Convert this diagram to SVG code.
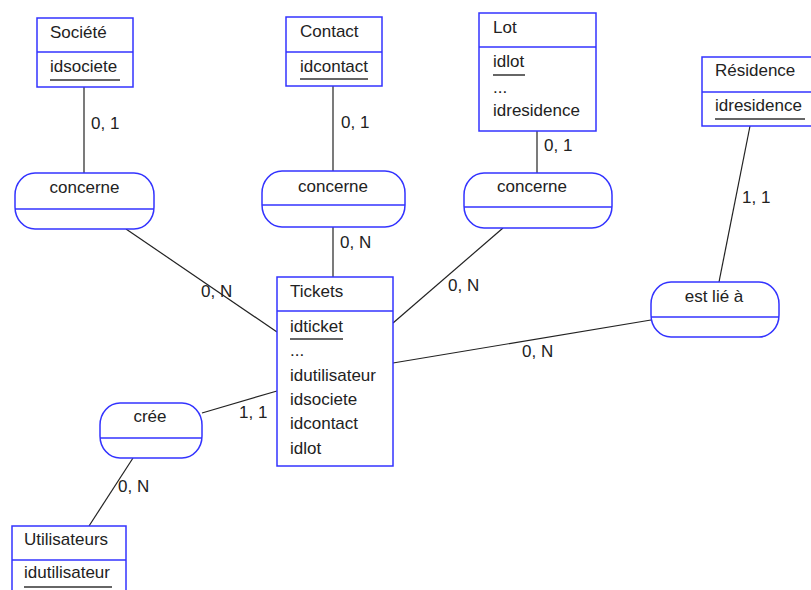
<svg xmlns="http://www.w3.org/2000/svg" width="811" height="590" viewBox="0 0 811 590">
<style>
.box{fill:#fff;stroke:#3333ff;stroke-width:1.5}
.div{stroke:#3333ff;stroke-width:1.5}
.t{font-family:"Liberation Sans",Arial,sans-serif;font-size:17px;fill:#222}
.ul{stroke:#333;stroke-width:1.5}
.c{stroke:#222;stroke-width:1.2;fill:none}
</style>
<rect width="811" height="590" fill="#fff"/>
<g id="connectors">
<line class="c" x1="84" y1="87" x2="84" y2="173"/>
<line class="c" x1="333" y1="86" x2="333" y2="171"/>
<line class="c" x1="537" y1="131" x2="537" y2="173"/>
<line class="c" x1="750" y1="126" x2="719" y2="282"/>
<line class="c" x1="126" y1="229" x2="277" y2="332"/>
<line class="c" x1="333" y1="227" x2="333" y2="277"/>
<line class="c" x1="503" y1="228" x2="393" y2="323"/>
<line class="c" x1="651" y1="320" x2="393" y2="363"/>
<line class="c" x1="202" y1="413" x2="277" y2="391"/>
<line class="c" x1="133" y1="458" x2="89" y2="526"/>
<text class="t" x="91" y="129">0, 1</text>
<text class="t" x="341" y="128">0, 1</text>
<text class="t" x="544" y="151">0, 1</text>
<text class="t" x="742" y="203">1, 1</text>
<text class="t" x="201" y="297">0, N</text>
<text class="t" x="340" y="248">0, N</text>
<text class="t" x="448" y="291">0, N</text>
<text class="t" x="522" y="357">0, N</text>
<text class="t" x="239" y="418">1, 1</text>
<text class="t" x="118" y="492">0, N</text>
</g>
<g id="societe">
<rect class="box" x="37" y="18" width="96" height="69"/>
<line class="div" x1="37" y1="52" x2="133" y2="52"/>
<text class="t" x="50" y="38">Société</text>
<text class="t" x="50" y="72">idsociete</text>
<line class="ul" x1="50" y1="80" x2="120" y2="80"/>
</g>
<g id="contact">
<rect class="box" x="286" y="17" width="96" height="69"/>
<line class="div" x1="286" y1="52" x2="382" y2="52"/>
<text class="t" x="300" y="37">Contact</text>
<text class="t" x="300" y="72">idcontact</text>
<line class="ul" x1="300" y1="79" x2="368" y2="79"/>
</g>
<g id="lot">
<rect class="box" x="479" y="13" width="117" height="118"/>
<line class="div" x1="479" y1="47" x2="596" y2="47"/>
<text class="t" x="493" y="33">Lot</text>
<text class="t" x="493" y="67">idlot</text>
<line class="ul" x1="493" y1="75" x2="525" y2="75"/>
<text class="t" x="493" y="93">...</text>
<text class="t" x="493" y="116">idresidence</text>
</g>
<g id="residence">
<rect class="box" x="702" y="57" width="115" height="69"/>
<line class="div" x1="702" y1="92" x2="811" y2="92"/>
<text class="t" x="715" y="76">Résidence</text>
<text class="t" x="715" y="111">idresidence</text>
<line class="ul" x1="715" y1="119" x2="805" y2="119"/>
</g>
<g id="tickets">
<rect class="box" x="277" y="277" width="116" height="189"/>
<line class="div" x1="277" y1="311" x2="393" y2="311"/>
<text class="t" x="290" y="297">Tickets</text>
<text class="t" x="290" y="332">idticket</text>
<line class="ul" x1="290" y1="339" x2="343" y2="339"/>
<text class="t" x="290" y="356">...</text>
<text class="t" x="290" y="381">idutilisateur</text>
<text class="t" x="290" y="405">idsociete</text>
<text class="t" x="290" y="429">idcontact</text>
<text class="t" x="290" y="454">idlot</text>
</g>
<g id="utilisateurs">
<rect class="box" x="12" y="526" width="114" height="80"/>
<line class="div" x1="12" y1="560" x2="126" y2="560"/>
<text class="t" x="24" y="545">Utilisateurs</text>
<text class="t" x="24" y="578">idutilisateur</text>
<line class="ul" x1="24" y1="587" x2="112" y2="587"/>
</g>
<g id="concerne1">
<rect class="box" x="15" y="173" width="139" height="56" rx="20" ry="22"/>
<line class="div" x1="15" y1="209" x2="154" y2="209"/>
<text class="t" x="84.5" y="193" text-anchor="middle">concerne</text>
</g>
<g id="concerne2">
<rect class="box" x="262" y="171" width="143" height="56" rx="20" ry="22"/>
<line class="div" x1="262" y1="205" x2="405" y2="205"/>
<text class="t" x="333" y="192" text-anchor="middle">concerne</text>
</g>
<g id="concerne3">
<rect class="box" x="464" y="173" width="148" height="55" rx="20" ry="22"/>
<line class="div" x1="464" y1="207" x2="612" y2="207"/>
<text class="t" x="532" y="192" text-anchor="middle">concerne</text>
</g>
<g id="estlie">
<rect class="box" x="651" y="282" width="128" height="55" rx="20" ry="22"/>
<line class="div" x1="651" y1="317" x2="779" y2="317"/>
<text class="t" x="714" y="302" text-anchor="middle">est lié à</text>
</g>
<g id="cree">
<rect class="box" x="100" y="403" width="102" height="55" rx="20" ry="22"/>
<line class="div" x1="100" y1="438" x2="202" y2="438"/>
<text class="t" x="150" y="422" text-anchor="middle">crée</text>
</g>
</svg>
